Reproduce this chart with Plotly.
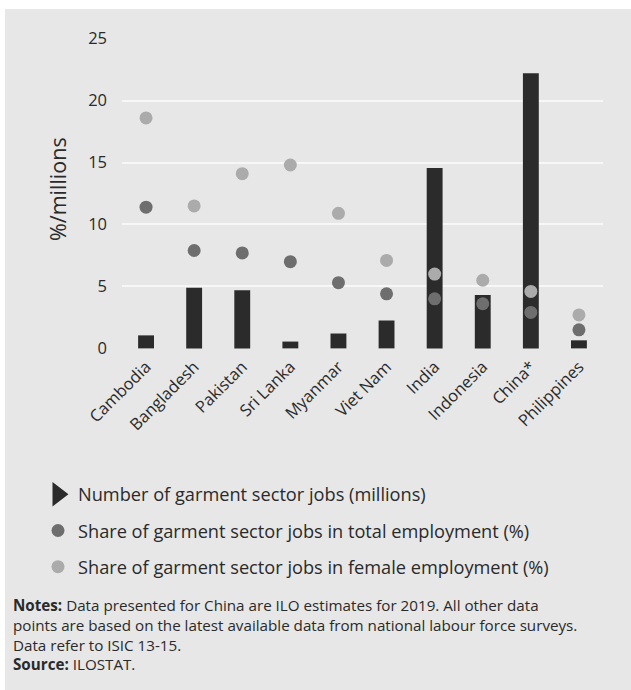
import plotly.graph_objects as go

countries = ["Cambodia", "Bangladesh", "Pakistan", "Sri Lanka", "Myanmar",
             "Viet Nam", "India", "Indonesia", "China*", "Philippines"]
jobs_millions = [1.05, 4.9, 4.7, 0.55, 1.2, 2.25, 14.55, 4.3, 22.2, 0.65]
share_total = [11.4, 7.9, 7.7, 7.0, 5.3, 4.4, 4.0, 3.6, 2.9, 1.5]
share_female = [18.6, 11.5, 14.1, 14.8, 10.9, 7.1, 6.0, 5.5, 4.6, 2.7]
y_ticks = [0, 5, 10, 15, 20, 25]

legend_names = ["Number of garment sector jobs (millions)",
                "Share of garment sector jobs in total employment (%)",
                "Share of garment sector jobs in female employment (%)"]

notes_lines = [
    "<b>Notes:</b> Data presented for China are ILO estimates for 2019. All other data",
    "points are based on the latest available data from national labour force surveys.",
    "Data refer to ISIC 13-15.",
    "<b>Source:</b> ILOSTAT.",
]

BG = "#e7e7e7"
BAR = "#2b2b2b"
DARK = "#6e6e6e"
LIGHT = "#ababab"
TXT = "#2a2a2a"
FONT = "Open Sans"

W, H = 631, 690
L, R = 122, 603
T, B = 38, 349

def px(x):
    return (x - L) / (R - L)

def py(y):
    return (B - y) / (B - T)

fig = go.Figure()
fig.add_trace(go.Bar(x=countries, y=jobs_millions, width=0.33,
                     marker=dict(color=BAR, line=dict(width=0)),
                     showlegend=False, hoverinfo="skip"))
# legend entry for bars (triangle symbol as in the original)
fig.add_trace(go.Scatter(x=[None], y=[None], mode="markers", name=legend_names[0],
                         marker=dict(symbol="triangle-right", size=18, color=BAR,
                                     line=dict(color=BAR, width=3)),
                         legendgroup="a", legendrank=1))
fig.add_trace(go.Scatter(x=countries, y=share_total, mode="markers", name=legend_names[1],
                         marker=dict(size=13, color=DARK), legendgroup="b", legendrank=2))
fig.add_trace(go.Scatter(x=countries, y=share_female, mode="markers", name=legend_names[2],
                         marker=dict(size=13, color=LIGHT), legendgroup="c", legendrank=3))

fig.update_layout(
    width=W, height=H,
    margin=dict(l=L, r=W - R, t=T, b=H - B, pad=0),
    paper_bgcolor=BG, plot_bgcolor=BG,
    font=dict(family=FONT, color=TXT),
    showlegend=True,
    legend=dict(x=px(38), y=py(476), xanchor="left", yanchor="top",
                orientation="v", bgcolor="rgba(0,0,0,0)", tracegroupgap=9.5,
                font=dict(size=18.2, color=TXT, family=FONT), itemsizing="trace",
                traceorder="grouped"),
    xaxis=dict(range=[-0.5, 9.5], tickangle=-45, showgrid=False, zeroline=False,
               showline=False, ticks="", tickfont=dict(size=16.5, color=TXT),
               ticklabelstandoff=4, fixedrange=True),
    yaxis=dict(range=[-0.05, 25.05], tickvals=y_ticks, showgrid=True, gridcolor="#f7f7f7",
               gridwidth=2, zeroline=False, showline=False, ticks="",
               tickfont=dict(size=16.5, color=TXT), ticklabelstandoff=14, fixedrange=True),
    bargap=0.67,
)

fig.add_annotation(text="%/millions", xref="paper", yref="paper", x=px(57), y=py(189),
                   textangle=-90, showarrow=False, font=dict(size=21.5, color=TXT),
                   xanchor="center", yanchor="middle")

fig.add_annotation(text="<br>".join(notes_lines), xref="paper", yref="paper",
                   x=px(11), y=py(593), xanchor="left", yanchor="top", align="left",
                   showarrow=False, font=dict(size=15.2, color=TXT))

# white margins around the grey panel
fig.add_shape(type="rect", xref="paper", yref="paper", x0=px(-5), x1=px(640),
              y0=py(9), y1=py(-5), fillcolor="white", line=dict(width=0), layer="above")
fig.add_shape(type="rect", xref="paper", yref="paper", x0=px(-5), x1=px(5),
              y0=py(700), y1=py(-5), fillcolor="white", line=dict(width=0), layer="above")

fig.write_html("out.html", config={"displayModeBar": False},
               post_script="document.body.style.margin='0px';"
                           "document.body.style.overflow='hidden';")
